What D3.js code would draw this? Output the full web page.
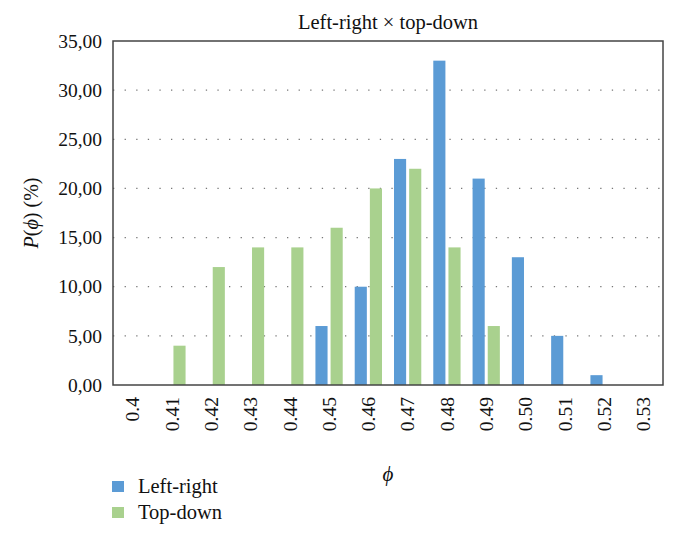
<html>
<script src='https://d3js.org/d3.v7.min.js'></script>
<style>
body {margin:0; background:white;}
text {font-family: "Liberation Serif", "DejaVu Serif", serif; fill:#111;}
</style>
<body>
<svg width=678 height=539></svg>
<script>
var categories = ["0.4","0.41","0.42","0.43","0.44","0.45","0.46","0.47","0.48","0.49","0.50","0.51","0.52","0.53"];
var leftRight = [0,0,0,0,0,6,10,23,33,21,13,5,1,0];
var topDown = [0,4,12,14,14,16,20,22,14,6,0,0,0,0];
var yTicks = [0,5,10,15,20,25,30,35];
var seriesNames = ["Left-right","Top-down"];
var colors = ["#5b9bd5","#a9d18e"];

var plotL = 113, plotT = 41, plotR = 663, plotB = 385;
var svg = d3.select("svg");

var x = d3.scaleBand().domain(categories).range([plotL, plotR]);
var inner = d3.scaleBand().domain(seriesNames).range([6, x.bandwidth()-6]).paddingInner(0.2);
var y = d3.scaleLinear().domain([0,35]).range([plotB, plotT]);

// grid
svg.append("g").selectAll("line")
   .data(yTicks.filter(function(d){return d>0 && d<35;}))
   .enter().append("line")
   .attr("x1", plotL).attr("x2", plotR)
   .attr("y1", function(d){return y(d);}).attr("y2", function(d){return y(d);})
   .attr("stroke","#777").attr("stroke-width",1.3)
   .attr("stroke-dasharray","1.3,10.3");

// bars
var series = [leftRight, topDown];
series.forEach(function(vals, s) {
  svg.append("g").selectAll("rect")
     .data(vals)
     .enter().append("rect")
     .attr("x", function(d,i){return x(categories[i]) + inner(seriesNames[s]);})
     .attr("width", inner.bandwidth())
     .attr("y", function(d){return y(d);})
     .attr("height", function(d){return y(0)-y(d);})
     .attr("fill", colors[s]);
});

// frame
svg.append("rect").attr("x",plotL).attr("y",plotT)
   .attr("width",plotR-plotL).attr("height",plotB-plotT)
   .attr("fill","none").attr("stroke","#444").attr("stroke-width",1.5);

// y axis
var ya = svg.append("g").attr("transform","translate("+plotL+",0)")
   .call(d3.axisLeft(y).tickValues(yTicks).tickSize(0).tickPadding(11)
        .tickFormat(function(d){return d3.format(".2f")(d).replace(".",",");}));
ya.select(".domain").remove();
ya.selectAll("text").style("font-size","19.5px").style("font-family","Liberation Serif");

// x axis
var xa = svg.append("g").attr("transform","translate(0,"+plotB+")")
   .call(d3.axisBottom(x).tickSize(0));
xa.select(".domain").remove();
xa.selectAll("text")
  .style("font-size","19.5px").style("font-family","Liberation Serif")
  .attr("transform","rotate(-90)")
  .attr("x",-12).attr("y",0).attr("dy","0.35em")
  .style("text-anchor","end");

// title
svg.append("text").attr("x",(plotL+plotR)/2).attr("y",29)
   .style("text-anchor","middle").style("font-size","20.5px")
   .text("Left-right \u00d7 top-down");

// axis titles
var yt = svg.append("text")
   .attr("transform","translate(38,"+((plotT+plotB)/2)+") rotate(-90)")
   .style("text-anchor","middle").style("font-size","20px");
yt.append("tspan").style("font-style","italic").text("P");
yt.append("tspan").text("(");
yt.append("tspan").style("font-style","italic").text("\u03d5");
yt.append("tspan").text(") (%)");

svg.append("text").attr("x",(plotL+plotR)/2).attr("y",481)
   .style("text-anchor","middle").style("font-size","21px").style("font-style","italic")
   .text("\u03d5");

// legend
var lg = svg.append("g").selectAll("g").data(seriesNames).enter().append("g")
   .attr("transform", function(d,i){return "translate(112,"+(481+i*26)+")";});
lg.append("rect").attr("width",12).attr("height",11)
  .attr("fill", function(d,i){return colors[i];});
lg.append("text").attr("x",26).attr("y",12)
  .style("font-size","20.5px").text(function(d){return d;});
</script>
</body>
</html>
